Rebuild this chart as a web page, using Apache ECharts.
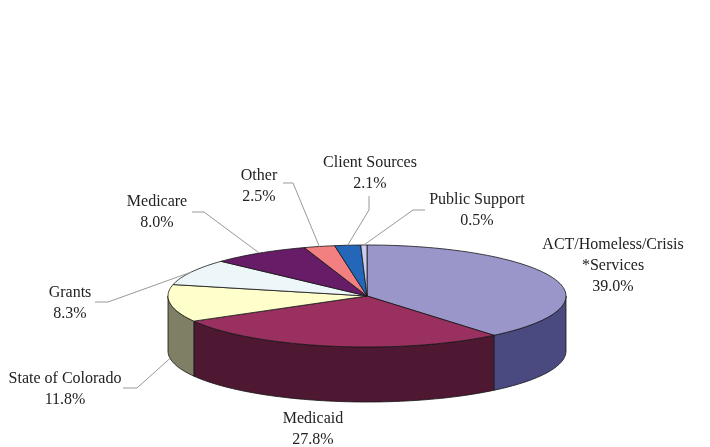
<!DOCTYPE html>
<html><head><meta charset="utf-8">
<script src="https://cdn.jsdelivr.net/npm/echarts@6/dist/echarts.min.js"></script>
<style>html,body{margin:0;padding:0;background:#fff}#c{width:710px;height:447px}</style>
</head><body><div id="c"></div>
<script>
const categories = ['ACT/Homeless/Crisis\n*Services','Medicaid','State of Colorado','Grants','Medicare','Other','Client Sources','Public Support'];
const values = [39.0, 27.8, 11.8, 8.3, 8.0, 2.5, 2.1, 0.5];

// styles / layout (not data)
const topColors  = ['#9a96ca','#99305f','#ffffcc','#edf6f9','#661c66','#f28080','#2466b8','#cccdf0'];
const sideColors = ['#4b4a80','#4e1832','#7f7f66','#777b7c','#330e33','#794040','#12335c','#66667a'];
const geo = {cx: 367, cy: 296, rx: 199, ry: 51, depth: 55};
const labelLayout = [
  {c:[613,266], lead:null},
  {c:[313,429], lead:null},
  {c:[65,389],  lead:[[123,388],[137,388]]},
  {c:[70,303],  lead:[[95,302],[108,302]]},
  {c:[157,212], lead:[[192,212],[204,212]]},
  {c:[259,186], lead:[[283,183],[293,183]]},
  {c:[370,173], lead:[[369,196],[369,210]]},
  {c:[477,210], lead:[[425,210],[413,210]]}
];

const total = values.reduce((a,b)=>a+b,0);
const starts = []; let acc = 0;
values.forEach(v => { starts.push(acc); acc += v; });

function pt(deg, dy) {
  const t = deg * Math.PI / 180;
  return [geo.cx + geo.rx * Math.sin(t), geo.cy - geo.ry * Math.cos(t) + (dy || 0)];
}

function renderItem(params, api) {
  const i = params.dataIndex;
  const v = api.value(0);
  const a0 = starts[i] / total * 360, a1 = (starts[i] + v) / total * 360;
  const children = [];
  const s0 = Math.max(a0, 90), s1 = Math.min(a1, 270);
  if (s1 > s0) {
    const n = Math.max(2, Math.ceil((s1 - s0) / 1.5));
    const topPts = [], botPts = [];
    for (let k = 0; k <= n; k++) {
      const d = s0 + (s1 - s0) * k / n;
      topPts.push(pt(d, 0)); botPts.push(pt(d, geo.depth));
    }
    children.push({type:'polygon', shape:{points: topPts.concat(botPts.reverse())},
      style:{fill: sideColors[i], stroke:'#151515', lineWidth:0.8}});
  }
  const n2 = Math.max(2, Math.ceil((a1 - a0) / 1.5));
  const tp = [[geo.cx, geo.cy]];
  for (let k = 0; k <= n2; k++) tp.push(pt(a0 + (a1 - a0) * k / n2, 0));
  children.push({type:'polygon', shape:{points: tp},
    style:{fill: topColors[i], stroke:'#151515', lineWidth:0.8}, z2: 5});
  const L = labelLayout[i];
  children.push({type:'text', x: L.c[0], y: L.c[1], z2: 10,
    style:{text: categories[i] + '\n' + v.toFixed(1) + '%', align:'center', verticalAlign:'middle',
      fontFamily:'"Liberation Serif","DejaVu Serif",serif', fontSize:16, lineHeight:21, fill:'#222222'}});
  if (L.lead) {
    const mid = (a0 + a1) / 2;
    const front = Math.cos(mid * Math.PI / 180) < 0;
    const end = pt(mid, front ? geo.depth : 0);
    children.push({type:'polyline', z2: 8, shape:{points:[L.lead[0], L.lead[1], end]},
      style:{stroke:'#999999', lineWidth:1, fill:null}});
  }
  return {type:'group', children};
}

const chart = echarts.init(document.getElementById('c'), null, {renderer:'canvas'});
chart.setOption({
  backgroundColor:'#ffffff',
  animation:false,
  series:[{type:'custom', coordinateSystem:'none', renderItem,
    data: values.map((v, i) => ({name: categories[i], value:[v]}))}]
});
</script></body></html>
